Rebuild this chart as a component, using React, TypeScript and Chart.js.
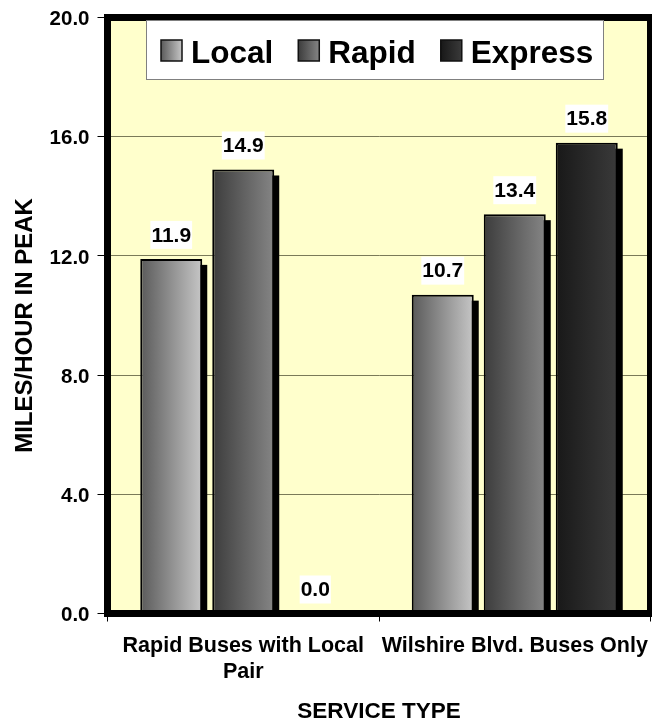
import React, { useEffect, useRef } from "react";
import { Chart, registerables } from "chart.js";

Chart.register(...registerables);

// ---- data ----
const categories: (string | string[])[] = [["Rapid Buses with Local", "Pair"], "Wilshire Blvd. Buses Only"];
const seriesNames = ["Local", "Rapid", "Express"];
const localValues = [11.9, 10.7];
const rapidValues = [14.9, 13.4];
const expressValues = [0.0, 15.8];
const yTickValues = [0, 4, 8, 12, 16, 20];
const xTitle = "SERVICE TYPE";
const yTitle = "MILES/HOUR IN PEAK";

// ---- styles ----
const FONT = "'Liberation Sans', Arial, Helvetica, sans-serif";
const gradientStops: [string, string][] = [
  ["#5a5a5a", "#c6c6c6"],
  ["#3c3c3c", "#858585"],
  ["#181818", "#3a3a3a"],
];
const PLOT_BG = "#FFFFCC";
const GRID_COLOR = "#7a7a58";

function barGradient(ctx: CanvasRenderingContext2D, left: number, width: number, di: number) {
  const g = ctx.createLinearGradient(left, 0, left + width, 0);
  g.addColorStop(0, gradientStops[di][0]);
  g.addColorStop(1, gradientStops[di][1]);
  return g;
}

const decorPlugin = {
  id: "decor",
  beforeDraw(chart: any) {
    const { ctx, chartArea: a } = chart;
    ctx.save();
    ctx.fillStyle = PLOT_BG;
    ctx.fillRect(a.left, a.top, a.right - a.left, a.bottom - a.top);
    ctx.restore();
  },
  beforeDatasetsDraw(chart: any) {
    const ctx: CanvasRenderingContext2D = chart.ctx;
    ctx.save();
    chart.data.datasets.forEach((_ds: any, di: number) => {
      const meta = chart.getDatasetMeta(di);
      meta.data.forEach((el: any) => {
        const { x, y, base, width } = el.getProps(["x", "y", "base", "width"], true);
        const left = x - width / 2;
        el.options.backgroundColor = barGradient(ctx, left, width, di);
        const h = base - y;
        if (h > 1) {
          ctx.fillStyle = "#000";
          ctx.fillRect(left + 5, y + 6, width, h - 6);
        }
      });
    });
    ctx.restore();
  },
  afterDatasetsDraw(chart: any) {
    const ctx: CanvasRenderingContext2D = chart.ctx;
    const a = chart.chartArea;
    ctx.save();
    // thick frame
    ctx.strokeStyle = "#000";
    ctx.lineWidth = 7;
    ctx.strokeRect(a.left, a.top, a.right - a.left, a.bottom - a.top);

    // data labels
    ctx.font = `bold 21px ${FONT}`;
    ctx.textAlign = "center";
    ctx.textBaseline = "middle";
    chart.data.datasets.forEach((ds: any, di: number) => {
      const meta = chart.getDatasetMeta(di);
      meta.data.forEach((el: any, i: number) => {
        const { x, y } = el.getProps(["x", "y"], true);
        const txt = Number(ds.data[i]).toFixed(1);
        const w = ctx.measureText(txt).width + 2;
        const hgt = 28;
        const bottom = y - 10;
        ctx.fillStyle = "#fff";
        ctx.fillRect(x - w / 2, bottom - hgt, w, hgt);
        ctx.fillStyle = "#000";
        ctx.fillText(txt, x, bottom - hgt / 2 + 1);
      });
    });

    // legend
    const lx = 146, ly = 20, lw = 458, lh = 60;
    ctx.fillStyle = "#fff";
    ctx.fillRect(lx, ly, lw, lh);
    ctx.strokeStyle = "#808080";
    ctx.lineWidth = 1;
    ctx.strokeRect(lx + 0.5, ly + 0.5, lw - 1, lh - 1);
    ctx.font = `bold 31.5px ${FONT}`;
    ctx.textAlign = "left";
    ctx.textBaseline = "alphabetic";
    let cx = 161;
    chart.data.datasets.forEach((ds: any, di: number) => {
      const sq = 21;
      const sy = 40;
      ctx.fillStyle = barGradient(ctx, cx, sq, di);
      ctx.fillRect(cx, sy, sq, sq);
      ctx.strokeStyle = "#111";
      ctx.lineWidth = 1.5;
      ctx.strokeRect(cx, sy, sq, sq);
      ctx.fillStyle = "#000";
      ctx.fillText(ds.label, cx + 30, 63);
      cx += 30 + ctx.measureText(ds.label).width + 25;
    });
    ctx.restore();
  },
};

export default function App() {
  const ref = useRef<HTMLCanvasElement | null>(null);
  useEffect(() => {
    if (!ref.current) return;
    const values = [localValues, rapidValues, expressValues];
    const chart = new Chart(ref.current, {
      type: "bar",
      data: {
        labels: categories,
        datasets: seriesNames.map((name, di) => ({
          label: name,
          data: values[di],
          backgroundColor: () => gradientStops[di][0],
          borderColor: "#000",
          borderWidth: 2,
          borderSkipped: false,
          barPercentage: 0.861,
          categoryPercentage: 0.7956,
        })),
      },
      options: {
        responsive: false,
        animation: false,
        devicePixelRatio: 1,
        layout: { padding: { top: 17.5, right: 1.5, left: 0, bottom: 0 } },
        plugins: { legend: { display: false }, tooltip: { enabled: false } },
        scales: {
          x: {
            grid: { offset: true, drawOnChartArea: false, drawTicks: true, tickLength: 8, color: "#000", lineWidth: 1 },
            border: { display: false },
            ticks: {
              color: "#000",
              font: { family: FONT, size: 21.5, weight: "bold", lineHeight: 1.2 },
              padding: 12,
              maxRotation: 0,
              autoSkip: false,
            },
            title: {
              display: true,
              text: xTitle,
              color: "#000",
              font: { family: FONT, size: 22.5, weight: "bold", lineHeight: 1 },
              padding: { top: 0, bottom: 0 },
            },
            afterFit: (s: any) => {
              s.height = 109.5;
              s.paddingLeft = 0;
              s.paddingRight = 0;
            },
          },
          y: {
            min: 0,
            max: 20,
            afterBuildTicks: (s: any) => {
              s.ticks = yTickValues.map((v) => ({ value: v }));
            },
            grid: { color: GRID_COLOR, tickColor: "#000", tickLength: 10, lineWidth: 1 },
            border: { display: false },
            ticks: {
              color: "#000",
              font: { family: FONT, size: 20.5, weight: "bold" },
              padding: 8,
              labelOffset: 2,
              callback: (v: any) => Number(v).toFixed(1),
            },
            title: {
              display: true,
              text: yTitle + "   ",
              color: "#000",
              font: { family: FONT, size: 24, weight: "bold", lineHeight: 1.2 },
              padding: { top: 11, bottom: 0 },
            },
            afterFit: (s: any) => {
              s.width = 107.5;
              s.paddingTop = 0;
              s.paddingBottom = 0;
            },
          },
        },
      },
      plugins: [decorPlugin],
    } as any);
    return () => chart.destroy();
  }, []);
  return (
    <div style={{ position: "fixed", left: 0, top: 0, width: 652, height: 723 }}>
      <canvas ref={ref} width={652} height={723} style={{ display: "block", width: 652, height: 723 }} />
    </div>
  );
}
